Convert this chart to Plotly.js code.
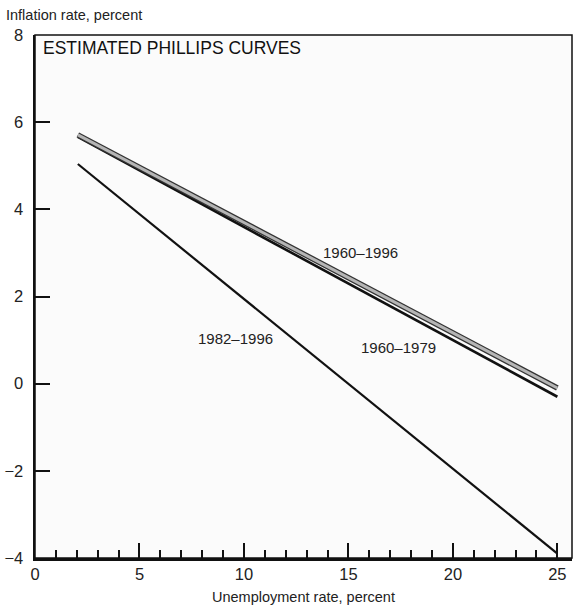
<!DOCTYPE html>
<html>
<head>
<meta charset="utf-8">
<script src="https://cdn.plot.ly/plotly-3.0.1.min.js"></script>
<style>html,body{margin:0;padding:0;background:#fff;}#chart{width:577px;height:608px;}</style>
</head>
<body>
<div id="chart"></div>
<script>
// Unemployment rate endpoints (percent)
const unemp = [2.05, 25.0];
// Estimated Phillips curves: inflation rate (percent) at the endpoints
const curve6096 = [5.71, -0.10];
const curve6079 = [5.66, -0.30];
const curve8296 = [5.04, -3.90];
const curveLabels = ["1960\u20131996", "1960\u20131979", "1982\u20131996"];
const labelX = [15.6, 17.4, 9.6];
const labelY = [3.0, 0.82, 1.03];
const xTicks = [0, 5, 10, 15, 20, 25];
const yTicks = [-4, -2, 0, 2, 4, 6, 8];

const FONT = '"Liberation Sans", Arial, sans-serif';

const traces = [
  {x: unemp, y: curve6079, mode: 'lines', line: {color: '#111', width: 2.6}, hoverinfo: 'skip'},
  {x: unemp, y: curve6096, mode: 'lines', line: {color: '#333', width: 5.5}, hoverinfo: 'skip'},
  {x: unemp, y: curve6096, mode: 'lines', line: {color: '#b5b5b5', width: 3}, hoverinfo: 'skip'},
  {x: unemp, y: curve8296, mode: 'lines', line: {color: '#111', width: 2.2}, hoverinfo: 'skip'}
];

const annotations = curveLabels.map((t, i) => ({
  x: labelX[i], y: labelY[i], xref: 'x', yref: 'y', text: t, showarrow: false,
  font: {family: FONT, size: 15, color: '#222'}
}));
annotations.push({
  xref: 'paper', yref: 'paper', x: 0.012, y: 1, yshift: -1, xanchor: 'left', yanchor: 'top',
  text: 'ESTIMATED PHILLIPS CURVES', showarrow: false,
  font: {family: FONT, size: 17.5, color: '#111'}
});
annotations.push({
  xref: 'paper', yref: 'paper', x: 0, xshift: -31, y: 1, yshift: 20, xanchor: 'left', yanchor: 'middle',
  text: 'Inflation rate, percent', showarrow: false,
  font: {family: FONT, size: 14.5, color: '#222'}
});

const layout = {
  width: 577, height: 608,
  margin: {l: 35, r: 5, t: 35, b: 50},
  paper_bgcolor: '#fff', plot_bgcolor: '#fbfbfb',
  showlegend: false,
  font: {family: FONT, color: '#222', size: 16},
  xaxis: {
    range: [0, 25.7], tickvals: xTicks, ticktext: xTicks.map(String),
    ticks: 'inside', ticklen: 15, tickwidth: 2, tickcolor: '#111',
    minor: {dtick: 1, ticks: 'inside', ticklen: 8, tickwidth: 2, tickcolor: '#111', showgrid: false},
    showline: true, linewidth: 2.5, linecolor: '#111', showgrid: false, zeroline: false,
    tickfont: {family: FONT, size: 16.5, color: '#222'},
    title: {text: 'Unemployment rate, percent', font: {family: FONT, size: 14.5, color: '#222'}, standoff: 10},
    fixedrange: true
  },
  yaxis: {
    range: [-4, 8], tickvals: yTicks, ticktext: yTicks.map(v => v < 0 ? '\u2212' + Math.abs(v) : String(v)),
    ticks: 'inside', ticklen: 15, tickwidth: 2, tickcolor: '#111',
    showline: true, linewidth: 2.5, linecolor: '#111', showgrid: false, zeroline: false,
    tickfont: {family: FONT, size: 16.5, color: '#222'},
    ticklabelstandoff: 6,
    fixedrange: true
  },
  shapes: [
    {type: 'rect', xref: 'paper', yref: 'paper', x0: 0, x1: 1, y0: 0, y1: 1,
     line: {color: '#111', width: 1.5}, fillcolor: 'rgba(0,0,0,0)', layer: 'above'}
  ],
  annotations: annotations
};

Plotly.newPlot('chart', traces, layout, {staticPlot: true, displayModeBar: false});
</script>
</body>
</html>
